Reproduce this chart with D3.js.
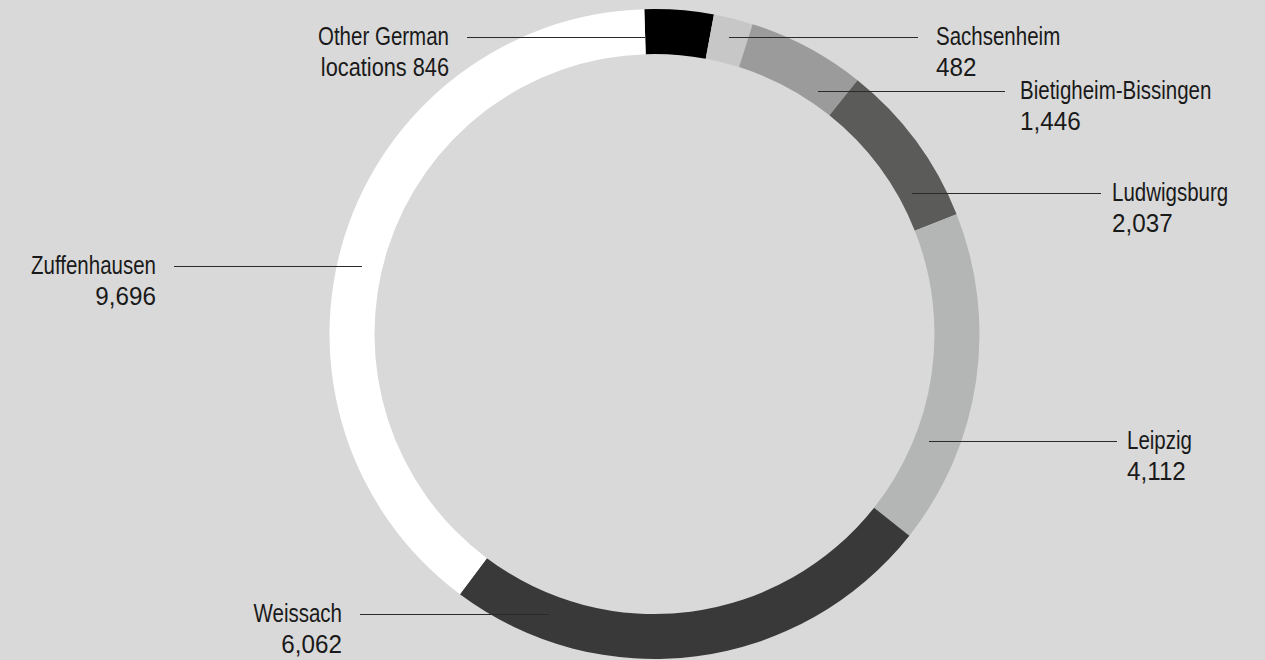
<!DOCTYPE html>
<html><head><meta charset="utf-8">
<script src="https://cdn.jsdelivr.net/npm/d3@7"></script>
<style>
html,body{margin:0;padding:0;background:#d9d9d9;}
svg{display:block;}
text{font-family:"Liberation Sans",Arial,sans-serif;font-size:25px;fill:#1a1a1a;}
</style></head>
<body>
<script>
const categories = ["Other German locations","Sachsenheim","Bietigheim-Bissingen","Ludwigsburg","Leipzig","Weissach","Zuffenhausen"];
const values = [846, 482, 1446, 2037, 4112, 6062, 9696];
const valueLabels = ["846","482","1,446","2,037","4,112","6,062","9,696"];
const colors = ["#000000","#c6c7c6","#9a9b9a","#5b5b5a","#b4b5b5","#393939","#ffffff"];

// label layout (leader line y, line start x, line end x, text x, anchor)
const layout = [
  {ly:37, x1:645, x2:467, tx:449, anchor:"end", lines:["Other German","locations 846"], sq:[0.82,0.87]},
  {ly:37, x1:729, x2:918, tx:936, anchor:"start"},
  {ly:91, x1:818, x2:1005, tx:1020, anchor:"start"},
  {ly:193, x1:912, x2:1101, tx:1112, anchor:"start"},
  {ly:441, x1:929, x2:1117, tx:1127, anchor:"start"},
  {ly:614, x1:549, x2:360, tx:342, anchor:"end"},
  {ly:266, x1:362, x2:174, tx:156, anchor:"end"}
];

const W = 1265, H = 660;
const cx = 654.5, cy = 334, R = 325, r = 280;
const start = -1.8 * Math.PI / 180;

const svg = d3.select("body").append("svg").attr("width", W).attr("height", H);
svg.append("rect").attr("width", W).attr("height", H).attr("fill", "#d9d9d9");

const pie = d3.pie().sort(null).value(d => d).startAngle(start).endAngle(start + 2 * Math.PI);
const arc = d3.arc().innerRadius(r).outerRadius(R);
const g = svg.append("g").attr("transform", `translate(${cx},${cy})`);
g.selectAll("path").data(pie(values)).join("path")
  .attr("d", arc).attr("fill", (d, i) => colors[i]);

const lab = svg.append("g");
layout.forEach((L, i) => {
  lab.append("line").attr("x1", L.x1).attr("x2", L.x2)
    .attr("y1", L.ly + 0.5).attr("y2", L.ly + 0.5)
    .attr("stroke", "#2a2a2a").attr("stroke-width", 1.2);
  const lines = L.lines || [categories[i], valueLabels[i]];
  const sq = L.sq || [0.82, 0.97];
  lines.forEach((s, k) => {
    lab.append("text").attr("text-anchor", L.anchor)
      .attr("transform", `translate(${L.tx},${L.ly + 8 + k * 31}) scale(${sq[k]},1)`)
      .attr("x", 0).attr("y", 0).text(s);
  });
});
</script>
</body></html>
